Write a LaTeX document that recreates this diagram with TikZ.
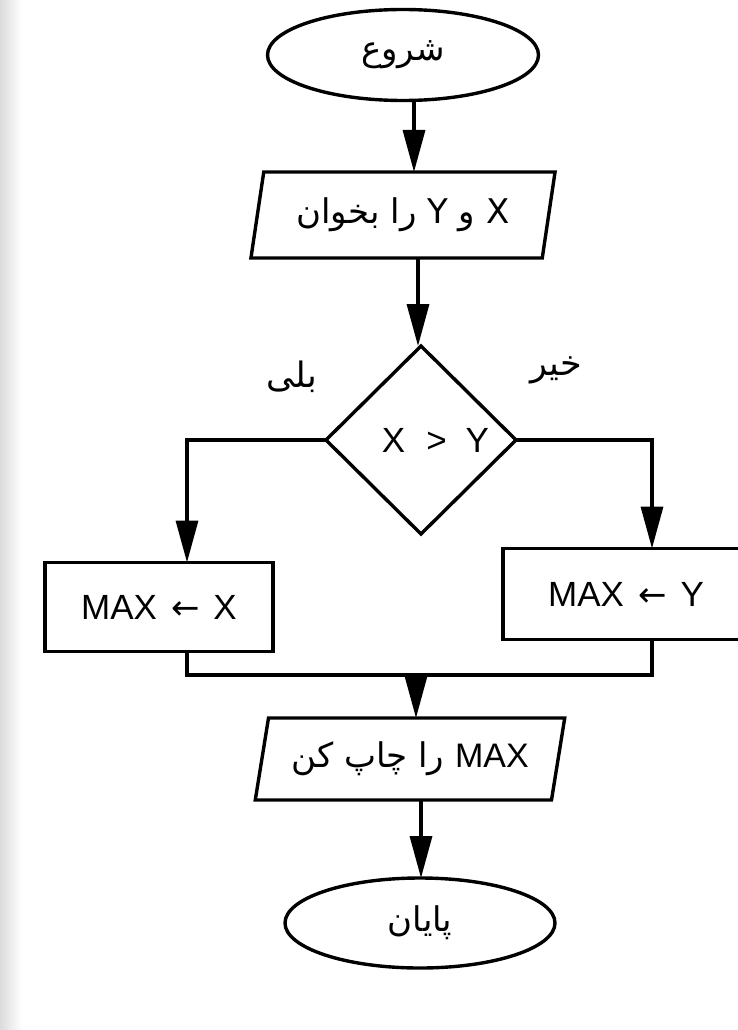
\documentclass[tikz,border=0pt]{standalone}
\usepackage{fontspec}
\setmainfont{Liberation Sans}
\newfontfamily\fa[Script=Arabic]{DejaVu Sans}
\newfontfamily\dv{DejaVu Sans}
\TeXXeTstate=1
\usetikzlibrary{shapes.geometric,arrows.meta}
\newcommand{\larr}{\hspace{14pt}{\dv\fontsize{34}{36}\selectfont ←}\hspace{14pt}}
\begin{document}
\begin{tikzpicture}[x=1pt,y=-1pt,line width=3.4pt,
  term/.style={ellipse,draw,minimum width=271pt,minimum height=91pt,inner sep=0pt,outer sep=0pt,font=\fa\fontsize{34}{38}\selectfont},
  io/.style={trapezium,draw,trapezium left angle=74,trapezium right angle=106,trapezium stretches=true,minimum width=305pt,minimum height=86pt,inner sep=0pt,outer sep=0pt,font=\fa\fontsize{34}{38}\selectfont},
  decision/.style={diamond,draw,minimum width=190pt,minimum height=188pt,inner sep=0pt,outer sep=0pt,font=\fontsize{35}{40}\selectfont},
  proc/.style={rectangle,draw,inner sep=0pt,outer sep=0pt,font=\fontsize{35}{40}\selectfont},
  lbl/.style={font=\fa\fontsize{35}{38}\selectfont,inner sep=0pt},
  arr/.style={-{Triangle[length=42pt,width=22pt]}}]
\useasboundingbox (0,0) rectangle (737,1030);
\fill[left color=black!14,right color=white,draw=none] (0,0) rectangle (22,1030);
% nodes
\node[term] (start) at (403,55) {\beginR شروع\endR};
\node[io] (read) at (403,215) {\beginR X و Y را بخوان\endR};
\node[decision] (dec) at (421,440) {\hspace{29pt}X\hspace{21pt}>\hspace{19pt}Y};
\node[lbl] (yes) at (292,377) {\beginR بلی\endR};
\node[lbl] (no) at (556,370) {\beginR خیر\endR};
\node[proc,minimum width=228pt,minimum height=89pt] (lbox) at (159,607) {MAX\larr X};
\node[proc,minimum width=246pt,minimum height=91pt] (rbox) at (626,594) {MAX\larr Y};
\node[io,minimum width=310pt,minimum height=82pt,trapezium left angle=72,trapezium right angle=108] (print) at (410,759) {\beginR\beginL{\normalfont MAX}\endL{} را چاپ کن\endR};
\node[term,minimum width=270pt,minimum height=90pt] (end) at (420,923) {\beginR پایان\endR};
% axis coordinates
\coordinate (a1) at (414,0);
\coordinate (a2) at (418,0);
\coordinate (merge) at (416,675);
\coordinate (a4) at (421,0);
% connectors
\draw[arr] (start.south -| a1) -- (read.north -| a1);
\draw[arr] (read.south -| a2) -- (dec.north -| a2);
\draw[arr] (dec.west) -| ([xshift=28pt]lbox.north);
\draw[arr] (dec.east) -| ([xshift=26pt]rbox.north);
\draw ([xshift=28pt]lbox.south) |- (merge) -| ([xshift=26pt]rbox.south);
\draw[arr] (merge) -- (print.north -| merge);
\draw[arr] (print.south -| a4) -- (end.north -| a4);
\end{tikzpicture}
\end{document}
